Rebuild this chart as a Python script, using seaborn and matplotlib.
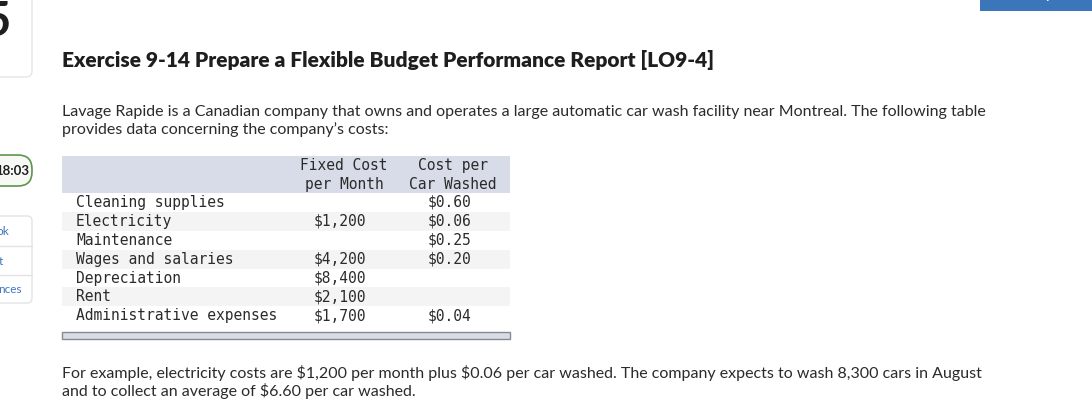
import matplotlib
matplotlib.use("Agg")
import matplotlib.pyplot as plt
from matplotlib.colors import ListedColormap
from matplotlib.patches import FancyBboxPatch, Rectangle
import numpy as np
import seaborn as sns

# ── Data ──────────────────────────────────────────────────────────────────────
title = "Exercise 9-14 Prepare a Flexible Budget Performance Report [LO9-4]"
intro = [
    "Lavage Rapide is a Canadian company that owns and operates a large automatic car wash facility near Montreal. The following table",
    "provides data concerning the company\u2019s costs:",
]
outro = [
    "For example, electricity costs are $1,200 per month plus $0.06 per car washed. The company expects to wash 8,300 cars in August",
    "and to collect an average of $6.60 per car washed.",
]
cost_items = [
    "Cleaning supplies",
    "Electricity",
    "Maintenance",
    "Wages and salaries",
    "Depreciation",
    "Rent",
    "Administrative expenses",
]
fixed_cost = [None, 1200, None, 4200, 8400, 2100, 1700]
cost_per_car = [0.60, 0.06, 0.25, 0.20, None, None, 0.04]
col_headers = [("Fixed Cost", "per Month"), ("Cost per", "Car Washed")]
timer = "18:03"
side_links = ["ok", "t", "nces"]

# ── Style ─────────────────────────────────────────────────────────────────────
sns.set_theme(style="white")
plt.rcParams["font.family"] = ["Lato", "DejaVu Sans"]
plt.rcParams["text.parse_math"] = False

W, H = 1092, 415
TEXT = "#2b2b2b"
MONO = "DejaVu Sans Mono"
HEAD_BG = "#d8dce8"
STRIPE = "#f4f4f4"
LINK = "#3f78bd"

fig = plt.figure(figsize=(W / 100, H / 100), dpi=100)
fig.patch.set_facecolor("white")

# table body rows (striped) drawn as a seaborn heatmap
tab_x0, tab_x1 = 62, 510
row_top, row_h = 193, 18.9
n_rows = len(cost_items)
ax_tab = fig.add_axes([tab_x0 / W, 1 - (row_top + n_rows * row_h) / H,
                       (tab_x1 - tab_x0) / W, n_rows * row_h / H], zorder=0)
stripes = np.array([[i % 2] for i in range(n_rows)])
sns.heatmap(stripes, cmap=ListedColormap(["#ffffff", STRIPE]), cbar=False,
            xticklabels=False, yticklabels=False, ax=ax_tab)
ax_tab.set_axis_off()

# overlay axes in pixel coordinates
ax = fig.add_axes([0, 0, 1, 1], zorder=1)
ax.set_xlim(0, W)
ax.set_ylim(H, 0)
ax.set_axis_off()
ax.patch.set_alpha(0)

renderer = fig.canvas.get_renderer()


def fit(t, width):
    w = t.get_window_extent(renderer).width
    t.set_fontsize(t.get_fontsize() * width / w)
    return t.get_fontsize()


# ── Left side bar ─────────────────────────────────────────────────────────────
ax.add_patch(FancyBboxPatch((-20, -20), 52, 97, boxstyle="round,pad=0,rounding_size=6",
                            fc="white", ec="#e6e6e6", lw=1))
ax.text(11, 22, "5", fontsize=34, fontweight="bold", color="#1f1f1f",
        ha="right", va="center")
ax.add_patch(FancyBboxPatch((-20, 155), 52, 31, boxstyle="round,pad=0,rounding_size=14",
                            fc="#f6f9f4", ec="#5c9450", lw=1.2))
ax.text(29, 171, timer, fontsize=9.5, fontweight="bold", color="#1f1f1f",
        ha="right", va="center")
ax.add_patch(FancyBboxPatch((-20, 216), 52, 87, boxstyle="round,pad=0,rounding_size=5",
                            fc="white", ec="#e3e3e3", lw=1))
for y in (246, 275):
    ax.plot([-20, 32], [y, y], color="#e3e3e3", lw=1)
for y, lbl, xr in zip((231, 261, 289), side_links, (9, 3, 22)):
    ax.text(xr, y, lbl, fontsize=8.5, color=LINK, ha="right", va="center")

# top-right button
ax.add_patch(Rectangle((980, -10), 130, 21, fc="#3a76b9", ec="none"))
ax.text(1040, -5, "Check my work", fontsize=9, color="white", ha="center",
        va="center", fontweight="bold")

# ── Title and paragraphs ──────────────────────────────────────────────────────
t = ax.text(62, 67, title, fontsize=12, fontweight="heavy", color="#1e1e1e",
            ha="left", va="baseline")
fit(t, 646)

t = ax.text(62, 116, intro[0], fontsize=11, color=TEXT, ha="left", va="baseline")
fs = fit(t, 921)
ax.text(62, 134, intro[1], fontsize=fs, color=TEXT, ha="left", va="baseline")

t = ax.text(62, 378, outro[0], fontsize=11, color=TEXT, ha="left", va="baseline")
fs = fit(t, 916)
ax.text(62, 396, outro[1], fontsize=fs, color=TEXT, ha="left", va="baseline")

# ── Table ─────────────────────────────────────────────────────────────────────
ax.add_patch(Rectangle((tab_x0, 156), tab_x1 - tab_x0, row_top - 156,
                       fc=HEAD_BG, ec="none"))
ax.add_patch(Rectangle((tab_x0, 332), tab_x1 - tab_x0, 6.5,
                       fc=HEAD_BG, ec="#8a8a8a", lw=1))

t = ax.text(76, 0, cost_items[-1], family=MONO, fontsize=10)
mono_fs = fit(t, 202)
t.remove()

for (l1, l2), xc in zip(col_headers, (344, 453)):
    ax.text(xc, 165, l1, family=MONO, fontsize=mono_fs, color=TEXT,
            ha="center", va="center")
    ax.text(xc, 184, l2, family=MONO, fontsize=mono_fs, color=TEXT,
            ha="center", va="center")

for i, (item, fc, vc) in enumerate(zip(cost_items, fixed_cost, cost_per_car)):
    y = row_top + (i + 0.5) * row_h
    ax.text(76, y, item, family=MONO, fontsize=mono_fs, color=TEXT,
            ha="left", va="center")
    if fc is not None:
        ax.text(366, y, f"${fc:,.0f}", family=MONO, fontsize=mono_fs,
                color=TEXT, ha="right", va="center")
    if vc is not None:
        ax.text(471, y, f"${vc:.2f}", family=MONO, fontsize=mono_fs,
                color=TEXT, ha="right", va="center")

fig.savefig("out.png", dpi=100, facecolor="white")
